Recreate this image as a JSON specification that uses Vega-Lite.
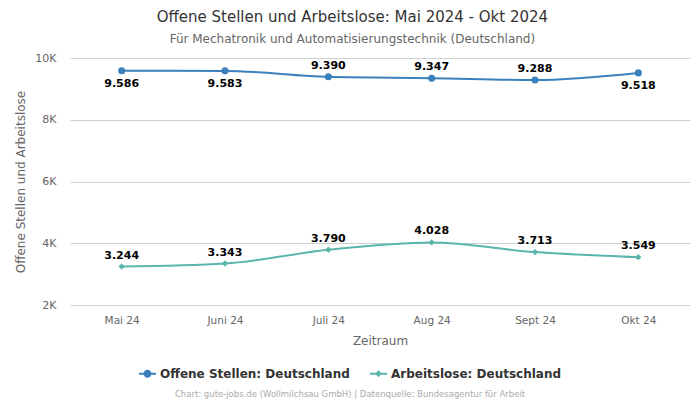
{
  "$schema": "https://vega.github.io/schema/vega-lite/v6.json",
  "autosize": {"type": "none"},
  "width": 620,
  "height": 247,
  "padding": {"left": 70, "top": 58, "right": 10, "bottom": 95},
  "title": {
    "text": "Offene Stellen und Arbeitslose: Mai 2024 - Okt 2024",
    "subtitle": "Für Mechatronik und Automatisierungstechnik (Deutschland)",
    "anchor": "middle",
    "frame": "bounds",
    "fontSize": 15,
    "fontWeight": "normal",
    "color": "#333333",
    "subtitleFontSize": 12,
    "subtitleColor": "#666666",
    "subtitlePadding": 9,
    "offset": 7
  },
  "data": {
    "values": [
      {"monat": "Mai 24", "serie": "Offene Stellen: Deutschland", "wert": 9586},
      {"monat": "Juni 24", "serie": "Offene Stellen: Deutschland", "wert": 9583},
      {"monat": "Juli 24", "serie": "Offene Stellen: Deutschland", "wert": 9390},
      {"monat": "Aug 24", "serie": "Offene Stellen: Deutschland", "wert": 9347},
      {"monat": "Sept 24", "serie": "Offene Stellen: Deutschland", "wert": 9288},
      {"monat": "Okt 24", "serie": "Offene Stellen: Deutschland", "wert": 9518},
      {"monat": "Mai 24", "serie": "Arbeitslose: Deutschland", "wert": 3244},
      {"monat": "Juni 24", "serie": "Arbeitslose: Deutschland", "wert": 3343},
      {"monat": "Juli 24", "serie": "Arbeitslose: Deutschland", "wert": 3790},
      {"monat": "Aug 24", "serie": "Arbeitslose: Deutschland", "wert": 4028},
      {"monat": "Sept 24", "serie": "Arbeitslose: Deutschland", "wert": 3713},
      {"monat": "Okt 24", "serie": "Arbeitslose: Deutschland", "wert": 3549}
    ]
  },
  "encoding": {
    "x": {
      "field": "monat",
      "type": "ordinal",
      "sort": ["Mai 24", "Juni 24", "Juli 24", "Aug 24", "Sept 24", "Okt 24"],
      "scale": {"type": "point", "padding": 0.5},
      "axis": {
        "title": "Zeitraum",
        "labelAngle": 0,
        "domain": false,
        "ticks": false,
        "labelPadding": 10,
        "labelFontSize": 10.5,
        "labelColor": "#666666",
        "titleFontSize": 12,
        "titleFontWeight": "normal",
        "titleColor": "#666666",
        "titlePadding": 10
      }
    },
    "y": {
      "field": "wert",
      "type": "quantitative",
      "scale": {"domain": [2000, 10000], "nice": false},
      "axis": {
        "title": "Offene Stellen und Arbeitslose",
        "values": [2000, 4000, 6000, 8000, 10000],
        "labelExpr": "datum.value / 1000 + 'K'",
        "domain": false,
        "ticks": false,
        "labelPadding": 14,
        "labelFontSize": 11,
        "labelColor": "#666666",
        "titleFontSize": 12,
        "titleFontWeight": "normal",
        "titleColor": "#666666",
        "titlePadding": 7,
        "gridColor": "#d0d0d0"
      }
    },
    "color": {
      "field": "serie",
      "type": "nominal",
      "scale": {
        "domain": ["Offene Stellen: Deutschland", "Arbeitslose: Deutschland"],
        "range": ["#3a80bd", "#5ab5ac"]
      },
      "legend": null
    }
  },
  "layer": [
    {
      "mark": {"type": "line", "interpolate": "monotone", "strokeWidth": 2}
    },
    {
      "transform": [{"filter": "datum.serie == 'Offene Stellen: Deutschland'"}],
      "mark": {"type": "point", "shape": "circle", "filled": true, "opacity": 1, "size": 50}
    },
    {
      "transform": [{"filter": "datum.serie == 'Arbeitslose: Deutschland'"}],
      "mark": {"type": "point", "shape": "diamond", "filled": true, "opacity": 1, "size": 40}
    },
    {
      "transform": [{"filter": "datum.serie == 'Offene Stellen: Deutschland' && datum.wert > 9500"}],
      "mark": {"type": "text", "dy": 13, "fontSize": 11, "fontWeight": "bold", "color": "#000000"},
      "encoding": {"text": {"field": "wert", "type": "quantitative", "format": ",.0f"}, "color": {"value": "#000000"}}
    },
    {
      "transform": [{"filter": "!(datum.serie == 'Offene Stellen: Deutschland' && datum.wert > 9500)"}],
      "mark": {"type": "text", "dy": -11, "fontSize": 11, "fontWeight": "bold", "color": "#000000"},
      "encoding": {"text": {"field": "wert", "type": "quantitative", "format": ",.0f"}, "color": {"value": "#000000"}}
    },
    {
      "transform": [{"filter": "false"}],
      "mark": {"type": "point", "filled": true, "opacity": 1},
      "encoding": {
        "color": {
          "field": "serie",
          "type": "nominal",
          "legend": {
            "orient": "none",
            "legendX": 69,
            "legendY": 307,
            "direction": "horizontal",
            "title": "Chart: gute-jobs.de (Wollmilchsau GmbH) | Datenquelle: Bundesagentur für Arbeit",
            "titleOrient": "bottom",
            "titleAnchor": "middle",
            "titleFontSize": 8.5,
            "titleFontWeight": "normal",
            "titleColor": "#aaaaaa",
            "titlePadding": 10,
            "titleLimit": 600,
            "labelFontSize": 12,
            "labelFontWeight": "bold",
            "labelColor": "#333333",
            "labelLimit": 300,
            "symbolOpacity": 1,
            "symbolSize": 289,
            "symbolStrokeWidth": 0,
            "columnPadding": 20
          }
        },
        "shape": {
          "field": "serie",
          "type": "nominal",
          "scale": {
            "domain": ["Offene Stellen: Deutschland", "Arbeitslose: Deutschland"],
            "range": [
              "M-1,-0.12H1V0.12H-1Z M0.47,0A0.47,0.47 0 1,1 -0.47,0A0.47,0.47 0 1,1 0.47,0Z",
              "M-1,-0.12H1V0.12H-1Z M0,-0.4L0.4,0L0,0.4L-0.4,0Z"
            ]
          }
        }
      }
    }
  ],
  "resolve": {"legend": {"color": "independent", "shape": "independent"}},
  "config": {
    "font": "DejaVu Sans",
    "view": {"stroke": null},
    "locale": {"number": {"decimal": ",", "thousands": ".", "grouping": [3], "currency": ["", " €"]}}
  }
}
